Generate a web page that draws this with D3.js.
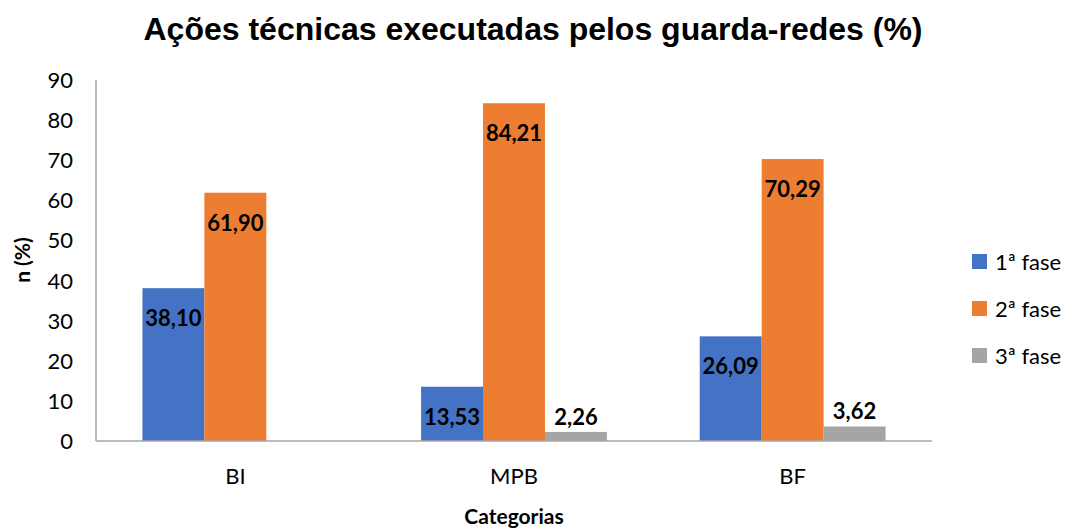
<!DOCTYPE html>
<html>
<head>
<meta charset="utf-8">
<style>
  body { margin: 0; background: #fff; }
  text { font-family: Lato, "Open Sans", sans-serif; }
</style>
</head>
<body>
<div id="chart"></div>
<script src="https://d3js.org/d3.v7.min.js"></script>
<script>
// dados
var categories = ["BI", "MPB", "BF"];
var series = ["1ª fase", "2ª fase", "3ª fase"];
var fase1 = [38.10, 13.53, 26.09];
var fase2 = [61.90, 84.21, 70.29];
var fase3 = [null, 2.26, 3.62];
var colors = ["#4472c4", "#ed7d31", "#a5a5a5"];
var yTicks = [0, 10, 20, 30, 40, 50, 60, 70, 80, 90];

var width = 1072, height = 528;
var margin = { left: 96, right: 140, top: 80, bottom: 87 };

var svg = d3.select("#chart").append("svg")
    .attr("width", width)
    .attr("height", height);

var x0 = d3.scaleBand().domain(categories)
    .range([margin.left, width - margin.right])
    .paddingInner(0.333).paddingOuter(0.1667);
var x1 = d3.scaleBand().domain(series).range([0, x0.bandwidth()]);
var y = d3.scaleLinear().domain([0, 90]).range([height - margin.bottom, margin.top]);

// título
svg.append("text")
    .attr("x", 533).attr("y", 40)
    .attr("text-anchor", "middle")
    .style("font-family", "'Liberation Sans', Arial, sans-serif")
    .style("font-weight", "bold")
    .style("font-size", "32px")
    .text("Ações técnicas executadas pelos guarda-redes (%)");

// barras
var rows = [];
categories.forEach(function(c, i) {
    [fase1, fase2, fase3].forEach(function(arr, j) {
        if (arr[i] != null) rows.push({ cat: c, s: series[j], v: arr[i], k: j });
    });
});

svg.selectAll(".bar").data(rows).enter().append("rect")
    .attr("x", function(d) { return x0(d.cat) + x1(d.s); })
    .attr("y", function(d) { return y(d.v); })
    .attr("width", x1.bandwidth())
    .attr("height", function(d) { return y(0) - y(d.v); })
    .attr("fill", function(d) { return colors[d.k]; });

svg.selectAll(".lbl").data(rows).enter().append("text")
    .attr("x", function(d) { return x0(d.cat) + x1(d.s) + x1.bandwidth() / 2; })
    .attr("y", function(d) {
        var h = y(0) - y(d.v);
        return h < 30 ? y(d.v) - 7 : y(d.v) + 38;
    })
    .attr("text-anchor", "middle")
    .style("font-weight", "bold")
    .style("font-size", "22px")
    .attr("fill", "#000")
    .text(function(d) { return d.v.toFixed(2).replace(".", ","); });

// eixos
svg.append("line")
    .attr("x1", margin.left).attr("x2", margin.left)
    .attr("y1", y(90)).attr("y2", y(0))
    .attr("stroke", "#a6a6a6").attr("stroke-width", 1.5);
svg.append("line")
    .attr("x1", margin.left).attr("x2", width - margin.right)
    .attr("y1", y(0)).attr("y2", y(0))
    .attr("stroke", "#a6a6a6").attr("stroke-width", 1.5);

svg.selectAll(".yt").data(yTicks).enter().append("text")
    .attr("x", 73).attr("y", function(d) { return y(d) + 8; })
    .attr("text-anchor", "end")
    .style("font-size", "22px")
    .text(function(d) { return d; });

svg.selectAll(".xt").data(categories).enter().append("text")
    .attr("x", function(d) { return x0(d) + x0.bandwidth() / 2; })
    .attr("y", 484)
    .attr("text-anchor", "middle")
    .style("font-size", "22px")
    .text(function(d) { return d; });

svg.append("text")
    .attr("x", (margin.left + width - margin.right) / 2).attr("y", 524)
    .attr("text-anchor", "middle")
    .style("font-weight", "bold")
    .style("font-size", "21px")
    .text("Categorias");

svg.append("text")
    .attr("transform", "translate(30,260) rotate(-90)")
    .attr("text-anchor", "middle")
    .style("font-weight", "bold")
    .style("font-size", "21px")
    .text("n (%)");

// legenda
var leg = svg.selectAll(".leg").data(series).enter().append("g")
    .attr("transform", function(d, i) { return "translate(972," + (254 + i * 47) + ")"; });
leg.append("rect").attr("width", 15).attr("height", 15)
    .attr("fill", function(d, i) { return colors[i]; });
leg.append("text").attr("x", 23).attr("y", 16)
    .style("font-size", "22px")
    .text(function(d) { return d; });
</script>
</body>
</html>
